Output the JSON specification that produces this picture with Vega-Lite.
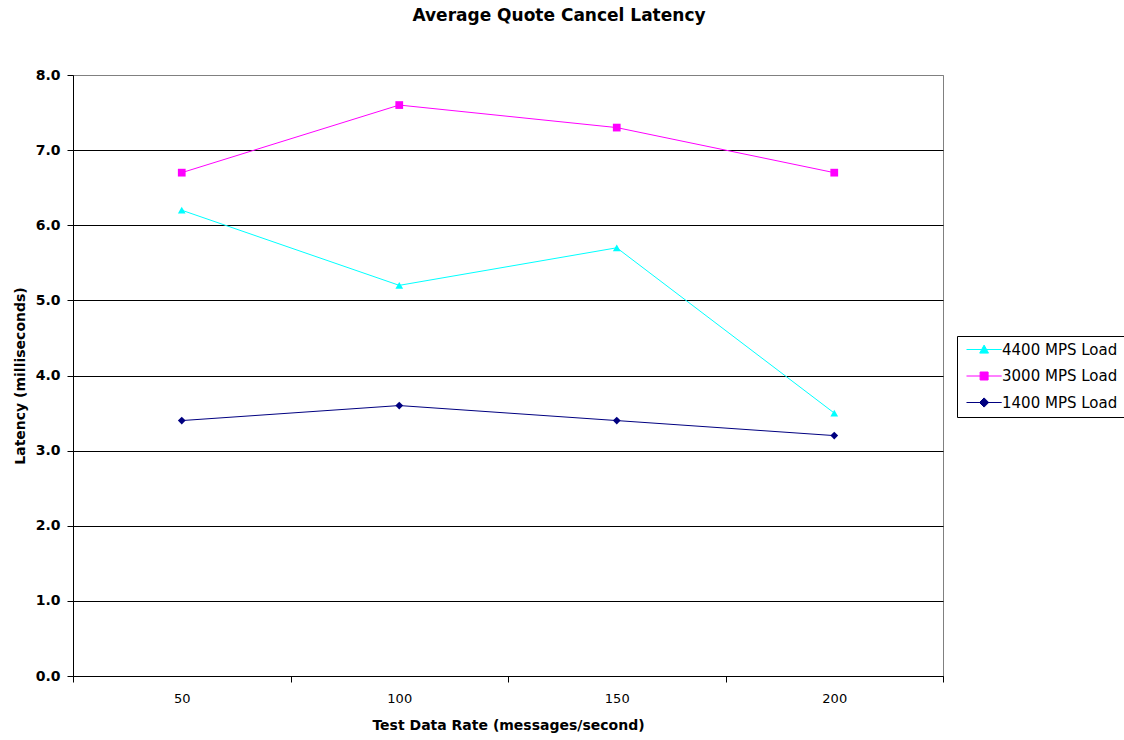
{
  "$schema": "https://vega.github.io/schema/vega-lite/v6.json",
  "width": 870,
  "height": 601,
  "autosize": {"type": "none"},
  "padding": {"left": 73, "top": 75, "right": 181, "bottom": 64},
  "background": "white",
  "title": {
    "text": "Average Quote Cancel Latency",
    "anchor": "middle",
    "frame": "group",
    "dx": 51,
    "offset": 26,
    "baseline": "bottom",
    "font": "DejaVu Sans",
    "fontSize": 17,
    "fontWeight": "bold",
    "color": "black"
  },
  "config": {
    "view": {"stroke": "#808080", "strokeWidth": 1},
    "font": "DejaVu Sans"
  },
  "data": {
    "values": [
      {"series": "4400 MPS Load", "rate": "50", "latency": 6.2},
      {"series": "4400 MPS Load", "rate": "100", "latency": 5.2},
      {"series": "4400 MPS Load", "rate": "150", "latency": 5.7},
      {"series": "4400 MPS Load", "rate": "200", "latency": 3.5},
      {"series": "3000 MPS Load", "rate": "50", "latency": 6.7},
      {"series": "3000 MPS Load", "rate": "100", "latency": 7.6},
      {"series": "3000 MPS Load", "rate": "150", "latency": 7.3},
      {"series": "3000 MPS Load", "rate": "200", "latency": 6.7},
      {"series": "1400 MPS Load", "rate": "50", "latency": 3.4},
      {"series": "1400 MPS Load", "rate": "100", "latency": 3.6},
      {"series": "1400 MPS Load", "rate": "150", "latency": 3.4},
      {"series": "1400 MPS Load", "rate": "200", "latency": 3.2}
    ]
  },
  "encoding": {
    "x": {
      "field": "rate",
      "type": "ordinal",
      "sort": ["50", "100", "150", "200"],
      "scale": {"paddingInner": 0, "paddingOuter": 0},
      "axis": {
        "title": "Test Data Rate (messages/second)",
        "labelAngle": 0,
        "tickBand": "extent",
        "tickSize": 6,
        "tickColor": "black",
        "domainColor": "black",
        "labelPadding": 10,
        "labelFont": "DejaVu Sans",
        "labelFontSize": 13,
        "labelColor": "black",
        "titleFont": "DejaVu Sans",
        "titleFontSize": 14,
        "titleFontWeight": "bold",
        "titleColor": "black",
        "titlePadding": 13
      }
    },
    "y": {
      "field": "latency",
      "type": "quantitative",
      "scale": {"domain": [0, 8], "nice": false},
      "axis": {
        "title": "Latency (milliseconds)",
        "values": [0, 1, 2, 3, 4, 5, 6, 7, 8],
        "format": ".1f",
        "grid": true,
        "gridColor": {"condition": {"test": "datum.value == 8", "value": "#808080"}, "value": "black"},
        "gridOpacity": 1,
        "gridWidth": 1,
        "tickSize": 6,
        "tickColor": "black",
        "domainColor": "black",
        "labelPadding": 7,
        "labelFont": "DejaVu Sans",
        "labelFontSize": 14,
        "labelFontWeight": "bold",
        "labelColor": "black",
        "titleFont": "DejaVu Sans",
        "titleFontSize": 14,
        "titleFontWeight": "bold",
        "titleColor": "black",
        "titlePadding": 8
      }
    },
    "color": {
      "field": "series",
      "type": "nominal",
      "scale": {
        "domain": ["4400 MPS Load", "3000 MPS Load", "1400 MPS Load"],
        "range": ["#00FFFF", "#FF00FF", "#000080"]
      },
      "legend": {
        "title": null,
        "orient": "none",
        "legendX": 884,
        "legendY": 261,
        "strokeColor": "black",
        "fillColor": "white",
        "padding": 6,
        "rowPadding": 10.5,
        "symbolSize": 64,
        "labelOffset": 24,
        "labelFont": "DejaVu Sans",
        "labelFontSize": 15,
        "labelColor": "black",
        "encode": {
          "symbols": {
            "update": {
              "shape": {"signal": "datum.value === '4400 MPS Load' ? 'M-1,0L7.8,0M3.4,-1.1L4.5,0.9L2.3,0.9Z' : datum.value === '3000 MPS Load' ? 'M-1,0L7.8,0M2.4,-1L4.4,-1L4.4,1L2.4,1Z' : 'M-1,0L7.8,0M3.4,-1.15L4.55,0L3.4,1.15L2.25,0Z'"},
              "fill": {"scale": "color", "field": "value"},
              "stroke": {"scale": "color", "field": "value"},
              "strokeWidth": {"value": 1.2},
              "opacity": {"value": 1}
            }
          }
        }
      }
    }
  },
  "layer": [
    {
      "mark": {"type": "line"},
      "encoding": {
        "detail": {"field": "series"},
        "strokeWidth": {
          "field": "series",
          "type": "nominal",
          "scale": {
            "domain": ["4400 MPS Load", "3000 MPS Load", "1400 MPS Load"],
            "range": [1, 1, 1.6]
          },
          "legend": null
        }
      }
    },
    {
      "transform": [{"filter": "datum.series === '4400 MPS Load'"}],
      "mark": {"type": "point", "shape": "triangle-up", "filled": true, "size": 60, "opacity": 1}
    },
    {
      "transform": [{"filter": "datum.series === '3000 MPS Load'"}],
      "mark": {"type": "point", "shape": "square", "filled": true, "size": 60, "opacity": 1}
    },
    {
      "transform": [{"filter": "datum.series === '1400 MPS Load'"}],
      "mark": {"type": "point", "shape": "diamond", "filled": true, "size": 60, "opacity": 1}
    }
  ]
}
